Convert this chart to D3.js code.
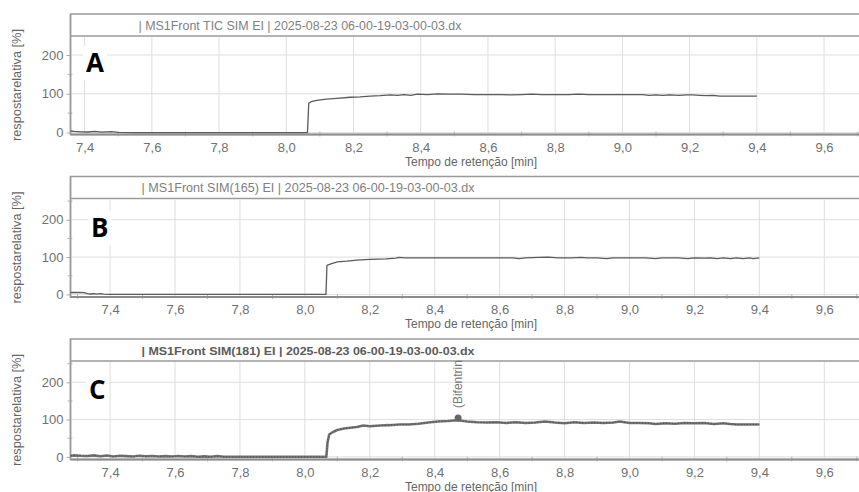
<!DOCTYPE html>
<html>
<head>
  <meta charset="utf-8">
  <title>Cromatogramas SIM</title>
  <style>
    body { margin: 0; background: #fff; }
    text { font-family: "Liberation Sans", Arial, sans-serif; }
    .tick-label { font-size: 13px; fill: #707070; }
    .grid { stroke: #dedede; stroke-width: 1px; }
    .frame { stroke: #9a9a9a; fill: none; }
    .axis-line { stroke: #8c8c8c; stroke-width: 2px; }
    .minor { stroke: #b8b8b8; stroke-width: 1px; }
    .axis-title { font-size: 12px; fill: #666; }
    .chart-title { font-size: 12px; fill: #777; }
    .letter { font-family: "Open Sans", "DejaVu Sans", sans-serif; font-weight: 700; font-size: 26px; fill: #000; }
  </style>
  <script src="https://d3js.org/d3.v7.min.js"></script>
</head>
<body>
  <script>
    // data
    var xTicks = [7.4, 7.6, 7.8, 8.0, 8.2, 8.4, 8.6, 8.8, 9.0, 9.2, 9.4, 9.6];
    var xMinor = [7.3, 7.5, 7.7, 7.9, 8.1, 8.3, 8.5, 8.7, 8.9, 9.1, 9.3, 9.5, 9.7];
    var yTicks = [0, 100, 200];
    var yMinor = [50, 150, 250];
    var letters = ["A", "B", "C"];
    var titles = [
      "| MS1Front TIC SIM EI | 2025-08-23 06-00-19-03-00-03.dx",
      "| MS1Front SIM(165) EI | 2025-08-23 06-00-19-03-00-03.dx",
      "| MS1Front SIM(181) EI | 2025-08-23 06-00-19-03-00-03.dx"
    ];

    var timeA = [7.358, 7.37, 7.39, 7.41, 7.43, 7.45, 7.48, 7.50, 7.55, 7.7, 7.9, 8.063, 8.067, 8.075, 8.09, 8.12, 8.15, 8.19, 8.22, 8.25, 8.28, 8.31, 8.33, 8.35, 8.37, 8.39, 8.42, 8.45, 8.48, 8.52, 8.56, 8.60, 8.64, 8.67, 8.70, 8.73, 8.76, 8.80, 8.84, 8.87, 8.90, 8.94, 8.98, 9.02, 9.06, 9.08, 9.10, 9.12, 9.14, 9.17, 9.19, 9.21, 9.23, 9.25, 9.27, 9.29, 9.32, 9.36, 9.40];
    var respA = [4, 3, 2, 1.5, 3, 1, 2.5, 0.5, 0, 0, 0, 0, 76, 80, 83, 86, 88, 91, 92, 94, 95, 97, 96, 98, 96, 99, 98, 100, 99, 99, 98, 98, 98, 97, 98, 99, 98, 98, 98, 99, 98, 98, 98, 98, 98, 96, 97, 96, 97, 96, 97, 97, 96, 95, 96, 94, 94, 94, 94];

    var timeB = [7.278, 7.30, 7.32, 7.33, 7.34, 7.35, 7.36, 7.37, 7.38, 7.40, 7.6, 7.8, 8.065, 8.068, 8.08, 8.10, 8.13, 8.16, 8.20, 8.25, 8.28, 8.29, 8.31, 8.35, 8.40, 8.45, 8.50, 8.55, 8.60, 8.64, 8.66, 8.68, 8.72, 8.75, 8.78, 8.82, 8.85, 8.87, 8.90, 8.93, 8.95, 9.00, 9.05, 9.08, 9.10, 9.15, 9.18, 9.20, 9.23, 9.25, 9.27, 9.29, 9.31, 9.33, 9.35, 9.37, 9.38, 9.40];
    var respB = [5, 5, 4.5, 2, 1, 2, 0.5, 2, 0.5, 0, 0, 0, 0, 78, 82, 87, 89, 92, 94, 95, 97, 99, 98, 98, 98, 98, 98, 98, 98, 98, 96, 98, 99, 100, 98, 98, 99, 98, 98, 96, 98, 98, 98, 96, 98, 98, 96, 98, 97, 98, 96, 98, 96, 98, 96, 98, 96, 98];

    var timeC = [7.278, 7.29, 7.31, 7.33, 7.35, 7.37, 7.39, 7.41, 7.43, 7.45, 7.47, 7.49, 7.51, 7.53, 7.55, 7.57, 7.59, 7.61, 7.63, 7.65, 7.67, 7.69, 7.71, 7.73, 7.75, 7.8, 7.9, 8.0, 8.066, 8.07, 8.075, 8.085, 8.10, 8.12, 8.14, 8.16, 8.18, 8.20, 8.23, 8.26, 8.29, 8.32, 8.35, 8.38, 8.41, 8.44, 8.47, 8.50, 8.53, 8.56, 8.59, 8.62, 8.65, 8.68, 8.71, 8.74, 8.77, 8.80, 8.83, 8.86, 8.89, 8.92, 8.95, 8.97, 9.00, 9.03, 9.06, 9.08, 9.11, 9.14, 9.17, 9.20, 9.23, 9.26, 9.29, 9.31, 9.33, 9.36, 9.40];
    var respC = [3, 4, 3, 2.5, 4, 1.5, 3.5, 1, 3, 2, 1, 3, 1.5, 2.5, 1, 2, 1, 2.5, 1, 2, 0.5, 1.5, 0.5, 2, 0.5, 0.3, 0.3, 0.3, 0.3, 40, 60, 66, 72, 76, 78, 80, 84, 82, 84, 85, 87, 87, 89, 92, 95, 96, 98, 95, 93, 92, 93, 91, 93, 91, 92, 95, 92, 90, 93, 91, 92, 91, 92, 95, 91, 91, 90, 88, 90, 89, 91, 90, 91, 88, 90, 88, 87, 87, 87];

    var peakTime = 8.472, peakResp = 104, peakName = "(Bifentrin";

    var width = 859, height = 492;
    var left = 70.5, right = 900;
    var boxH = 120.5, titleH = 22;

    var panels = [
      { top: 14,    x0: 7.358, x1: 9.704, y0: -5, y1: 249, time: timeA, resp: respA, line: "#5a5a5a", lw: 1.3, titleColor: "#808080", titleWeight: 400 },
      { top: 176.5, x0: 7.278, x1: 9.707, y0: -7, y1: 257, time: timeB, resp: respB, line: "#5a5a5a", lw: 1.3, titleColor: "#808080", titleWeight: 400 },
      { top: 339,   x0: 7.278, x1: 9.707, y0: -7, y1: 257, time: timeC, resp: respC, line: "#777", lw: 2.6, titleColor: "#5a5a5a", titleWeight: 700 }
    ];

    var svg = d3.select("body").append("svg")
      .attr("width", width)
      .attr("height", height);

    var fmt = function(d) { return d3.format(".1f")(d).replace(".", ","); };

    panels.forEach(function(p, i) {
      var plotTop = p.top + titleH, plotBottom = p.top + boxH;
      var x = d3.scaleLinear().domain([p.x0, p.x1]).range([left, width]);
      var y = d3.scaleLinear().domain([p.y0, p.y1]).range([plotBottom, plotTop]);

      var g = svg.append("g");

      // frame + title strip
      g.append("rect").attr("class", "frame")
        .attr("x", left).attr("y", p.top).attr("width", right - left).attr("height", boxH)
        .attr("stroke-width", 1.5);
      g.append("line").attr("class", "frame")
        .attr("x1", left).attr("x2", right).attr("y1", plotTop).attr("y2", plotTop)
        .attr("stroke", "#8a8a8a").attr("stroke-width", 1.5);

      g.append("text").attr("class", "chart-title")
        .attr("x", x(p.x0) + (i == 0 ? 68 : 71)).attr("y", p.top + 15.5)
        .style("fill", p.titleColor).style("font-weight", p.titleWeight)
        .style("font-size", i == 2 ? "11.5px" : "12px")
        .attr("textLength", i == 0 ? 323 : 333).attr("lengthAdjust", "spacingAndGlyphs")
        .text(titles[i]);

      // grid
      g.selectAll(".vgrid").data(xTicks).enter().append("line")
        .attr("class", "grid")
        .attr("x1", d => x(d)).attr("x2", d => x(d))
        .attr("y1", plotTop + 1).attr("y2", plotBottom);
      g.selectAll(".hgrid").data(yTicks).enter().append("line")
        .attr("class", "grid")
        .attr("x1", left).attr("x2", right)
        .attr("y1", d => y(d)).attr("y2", d => y(d));

      // minor ticks
      g.selectAll(".xminor").data(xMinor.filter(d => d > p.x0)).enter().append("line")
        .attr("class", "minor")
        .attr("x1", d => x(d)).attr("x2", d => x(d))
        .attr("y1", plotBottom - 3).attr("y2", plotBottom + 2);
      g.selectAll(".yminor").data(yMinor.filter(d => d < p.y1)).enter().append("line")
        .attr("class", "minor")
        .attr("x1", left - 3).attr("x2", left + 2)
        .attr("y1", d => y(d)).attr("y2", d => y(d));

      // panel letter with white backing
      var lt = g.append("text").attr("class", "letter")
        .attr("x", [86, 91, 89][i]).attr("y", y(200) + 17)
        .text(letters[i]);
      var bb = lt.node().getBBox();
      g.insert("rect", "text.letter").attr("fill", "#fff")
        .attr("x", bb.x - 3).attr("y", bb.y + 2).attr("width", bb.width + 6).attr("height", bb.height - 2);

      // axes
      var xAxis = d3.axisBottom(x).tickValues(xTicks).tickSize(0).tickPadding(8).tickFormat(fmt);
      var ax = g.append("g").attr("transform", "translate(0," + plotBottom + ")").call(xAxis);
      ax.select(".domain").remove();
      ax.selectAll("text").attr("class", "tick-label").attr("fill", null);

      var yAxis = d3.axisLeft(y).tickValues(yTicks).tickSize(4).tickPadding(3);
      var ay = g.append("g").attr("transform", "translate(" + left + ",0)").call(yAxis);
      ay.select(".domain").remove();
      ay.selectAll("line").attr("stroke", "#aaa");
      ay.selectAll("text").attr("class", "tick-label").attr("fill", null);

      g.append("line").attr("class", "axis-line")
        .attr("x1", left).attr("x2", right).attr("y1", plotBottom).attr("y2", plotBottom);
      g.append("line").attr("class", "frame")
        .attr("x1", left).attr("x2", left).attr("y1", p.top).attr("y2", plotBottom)
        .attr("stroke-width", 1.5);

      // trace
      var pts = p.time.map((t, k) => [t, p.resp[k]]);
      var line = d3.line().x(d => x(d[0])).y(d => y(d[1]));
      g.append("path").datum(pts)
        .attr("d", line)
        .attr("fill", "none")
        .attr("stroke", p.line)
        .attr("stroke-width", p.lw)
        .attr("stroke-linejoin", "round");
      if (i == 2) {
        g.append("path").datum(pts)
          .attr("d", line)
          .attr("fill", "none")
          .attr("stroke", "#555")
          .attr("stroke-width", 1.2)
          .attr("stroke-dasharray", "1.5,1.5");
        g.append("circle")
          .attr("cx", x(peakTime)).attr("cy", y(peakResp)).attr("r", 3.5)
          .attr("fill", "#666");
        g.append("text")
          .attr("transform", "translate(" + (x(peakTime) + 4) + "," + (y(peakResp) - 10) + ") rotate(-90)")
          .style("font-size", "12px").style("fill", "#777")
          .text(peakName);
      }

      // axis titles
      g.append("text").attr("class", "axis-title")
        .attr("x", 471).attr("y", plotBottom + 31)
        .attr("text-anchor", "middle")
        .text("Tempo de retenção [min]");
      g.append("text").attr("class", "axis-title")
        .attr("transform", "translate(21," + (p.top + 71) + ") rotate(-90)")
        .attr("text-anchor", "middle")
        .style("font-size", "13px")
        .attr("textLength", 112).attr("lengthAdjust", "spacingAndGlyphs")
        .text("respostarelativa [%]");
    });
  </script>
</body>
</html>
